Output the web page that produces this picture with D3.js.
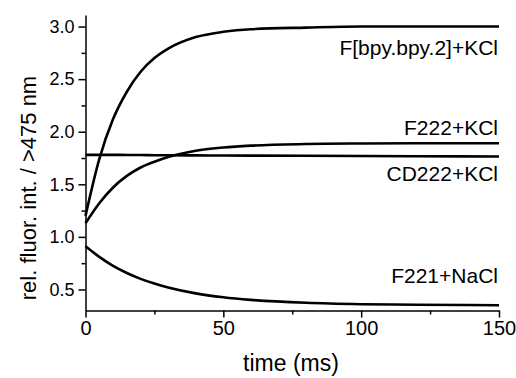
<!DOCTYPE html>
<html>
<head>
  <meta charset="utf-8">
  <title>Stopped-flow fluorescence traces</title>
  <script src="https://d3js.org/d3.v7.min.js"></script>
  <style>
    body { margin: 0; background: #fff; }
    svg { font-family: "Liberation Sans", Arial, sans-serif; }
    .curve { fill: none; stroke: #000; stroke-width: 2.6px; }
    .axis path, .axis line { stroke: #000; stroke-width: 1.5px; }
  </style>
</head>
<body>
  <svg></svg>
  <script>
    // values (time in ms, relative fluorescence)
    const times = [0, 5, 10, 15, 20, 25, 30, 40, 50, 60, 80, 100, 120, 150];
    const fbpy = [1.20, 1.74, 2.12, 2.38, 2.57, 2.70, 2.79, 2.90, 2.95, 2.975, 2.99, 3.0, 3.0, 3.0];
    const f222 = [1.13, 1.32, 1.47, 1.58, 1.66, 1.715, 1.76, 1.82, 1.85, 1.868, 1.883, 1.888, 1.89, 1.89];
    const cd222 = [1.78, 1.78, 1.78, 1.779, 1.778, 1.777, 1.776, 1.775, 1.774, 1.773, 1.771, 1.769, 1.767, 1.765];
    const f221 = [0.91, 0.81, 0.725, 0.657, 0.601, 0.556, 0.519, 0.463, 0.426, 0.401, 0.373, 0.36, 0.355, 0.35];

    const seriesNames = ["F[bpy.bpy.2]+KCl", "F222+KCl", "CD222+KCl", "F221+NaCl"];
    const seriesValues = [fbpy, f222, cd222, f221];
    const labelBaselines = [55, 135, 181, 283];

    const xTicks = [0, 50, 100, 150];
    const yTicks = [0.5, 1.0, 1.5, 2.0, 2.5, 3.0];

    const width = 516, height = 378;
    const svg = d3.select("svg").attr("width", width).attr("height", height);

    const x = d3.scaleLinear().domain([0, 150]).range([85.5, 499]);
    const y = d3.scaleLinear().domain([0.3, 3.11]).range([310.5, 15]);

    // minor ticks first
    svg.append("g")
      .attr("class", "axis")
      .attr("transform", "translate(0,310.5)")
      .call(d3.axisBottom(x).tickValues([25, 75, 125]).tickSize(4).tickFormat(""))
      .select(".domain").remove();
    svg.append("g")
      .attr("class", "axis")
      .attr("transform", "translate(85.5,0)")
      .call(d3.axisLeft(y).tickValues([0.75, 1.25, 1.75, 2.25, 2.75]).tickSize(4).tickFormat(""))
      .select(".domain").remove();

    const xAxis = svg.append("g")
      .attr("class", "axis")
      .attr("transform", "translate(0,310.5)")
      .call(d3.axisBottom(x).tickValues(xTicks).tickSize(7).tickSizeOuter(0).tickPadding(3));
    xAxis.selectAll("text").attr("font-size", 20).attr("fill", "#000").attr("font-family", null);

    const yAxis = svg.append("g")
      .attr("class", "axis")
      .attr("transform", "translate(85.5,0)")
      .call(d3.axisLeft(y).tickValues(yTicks).tickFormat(d3.format(".1f")).tickSize(7).tickSizeOuter(0).tickPadding(4));
    yAxis.selectAll("text").attr("font-size", 18).attr("fill", "#000").attr("font-family", null);

    const line = d3.line()
      .x((d, i) => x(times[i]))
      .y(d => y(d))
      .curve(d3.curveMonotoneX);

    svg.selectAll("path.curve")
      .data(seriesValues)
      .enter().append("path")
        .attr("class", "curve")
        .attr("stroke-width", (d, i) => i === 2 ? 2 : 2.6)
        .attr("d", line);

    svg.selectAll("text.lbl")
      .data(seriesNames)
      .enter().append("text")
        .attr("class", "lbl")
        .attr("x", 498)
        .attr("y", (d, i) => labelBaselines[i])
        .attr("text-anchor", "end")
        .attr("font-size", 21)
        .text(d => d);

    svg.append("text")
      .attr("x", 291)
      .attr("y", 371)
      .attr("text-anchor", "middle")
      .attr("font-size", 23)
      .text("time (ms)");

    svg.append("text")
      .attr("transform", "translate(36,188) rotate(-90)")
      .attr("text-anchor", "middle")
      .attr("font-size", 22)
      .text("rel. fluor. int. / >475 nm");
  </script>
</body>
</html>
